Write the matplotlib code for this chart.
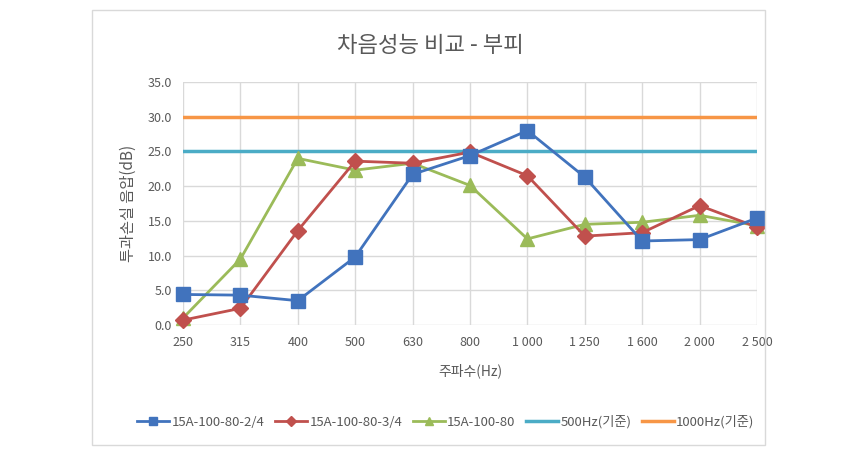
import matplotlib.pyplot as plt
from matplotlib.patches import Rectangle

plt.rcParams['font.family'] = ['Noto Sans CJK KR', 'DejaVu Sans']

freqs = ['250', '315', '400', '500', '630', '800', '1 000', '1 250', '1 600', '2 000', '2 500']
s_24 = [4.4, 4.3, 3.5, 9.8, 21.7, 24.4, 28.0, 21.3, 12.1, 12.3, 15.4]
s_34 = [0.7, 2.4, 13.6, 23.6, 23.3, 24.9, 21.5, 12.8, 13.3, 17.2, 14.1]
s_80 = [1.0, 9.5, 24.0, 22.3, 23.3, 20.1, 12.4, 14.5, 14.8, 15.8, 14.3]
ref_500 = 25.0
ref_1000 = 30.0

names = ['15A-100-80-2/4', '15A-100-80-3/4', '15A-100-80', '500Hz(기준)', '1000Hz(기준)']

fig = plt.figure(figsize=(8.61, 4.51), dpi=100)
# 차트 테두리
fig.patches.append(Rectangle((92 / 861, 1 - 445 / 451), (765 - 92) / 861, (445 - 10) / 451,
                             transform=fig.transFigure, fill=False, edgecolor='#d9d9d9', lw=1))

ax = fig.add_axes([183 / 861, 1 - 325 / 451, (757 - 183) / 861, (325 - 82) / 451])
x = list(range(len(freqs)))

ax.plot(x, s_24, color='#4173bd', marker='s', markersize=10, lw=2, label=names[0], zorder=5, clip_on=False)
ax.plot(x, s_34, color='#c0504d', marker='D', markersize=8, lw=2, label=names[1], zorder=4, clip_on=False)
ax.plot(x, s_80, color='#9bbb59', marker='^', markersize=10, lw=2, label=names[2], zorder=3, clip_on=False)
ax.plot(x, [ref_500] * len(x), color='#4bacc6', lw=2.5, label=names[3], zorder=2)
ax.plot(x, [ref_1000] * len(x), color='#f79646', lw=2.5, label=names[4], zorder=2)

ax.set_xlim(0, len(freqs) - 1)
ax.set_ylim(0, 35)
ax.set_xticks(x)
ax.set_xticklabels(freqs)
ax.set_yticks([0, 5, 10, 15, 20, 25, 30, 35])
ax.set_yticklabels(['%.1f' % v for v in [0, 5, 10, 15, 20, 25, 30, 35]])
ax.grid(True, color='#d9d9d9', lw=1)
ax.set_axisbelow(True)
for sp in ax.spines.values():
    sp.set_visible(False)
ax.tick_params(length=0, labelsize=9, colors='#595959', pad=8)

ax.set_xlabel('주파수(Hz)', fontsize=10, color='#595959', labelpad=10)
ax.set_ylabel('투과손실 음압(dB)', fontsize=11, color='#595959', labelpad=8)
fig.text(0.5, 1 - 45 / 451, '차음성능 비교 - 부피', ha='center', va='center', fontsize=16, color='#595959')

ax.legend(loc='center', bbox_to_anchor=(446 / 861, 1 - 422 / 451), bbox_transform=fig.transFigure,
          ncol=5, frameon=False, fontsize=9.5, handlelength=2.4, columnspacing=0.8, handletextpad=0.2,
          labelcolor='#595959', markerscale=0.6)

fig.savefig('out.png', dpi=100)
